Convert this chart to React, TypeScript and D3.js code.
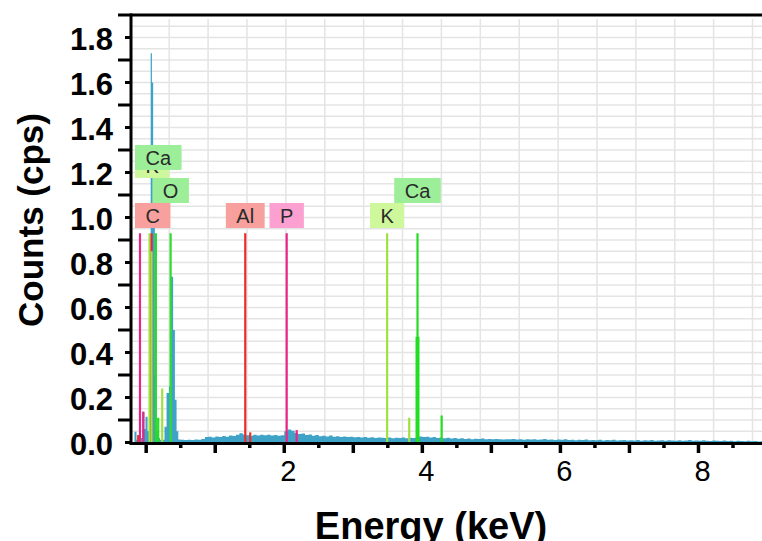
import React, { useEffect, useRef } from 'react';
import * as d3 from 'd3';

const width = 762;
const height = 541;

// low energy part of the spectrum, read bin by bin (keV at bin start, cps)
const lowKeV = [-0.22, -0.17, -0.14, -0.11, -0.06, -0.03, -0.01, 0.02, 0.045, 0.065, 0.083, 0.101, 0.126, 0.145, 0.17, 0.2, 0.265, 0.295, 0.33, 0.355, 0.39, 0.416, 0.44, 0.465];
const lowCps = [0.0, 0.048, 0.012, 0.02, 0.137, 0.06, 0.115, 0.05, 0.3, 1.73, 1.6, 1.0, 0.3, 0.05, 0.02, 0.012, 0.07, 0.22, 0.25, 0.737, 0.5, 0.19, 0.05, 0.013];

// background, one value every 0.05 keV starting at 0.50 keV
const bgStart = 0.5;
const bgStep = 0.05;
const bgCps = [
  0.012, 0.011, 0.012, 0.011, 0.013, 0.012, 0.016, 0.024, 0.026, 0.022,
  0.027, 0.025, 0.029, 0.026, 0.031, 0.029, 0.034, 0.041, 0.036, 0.032,
  0.03, 0.034, 0.031, 0.035, 0.032, 0.034, 0.031, 0.033, 0.03, 0.032,
  0.05, 0.058, 0.052, 0.042, 0.038, 0.04, 0.033, 0.036, 0.03, 0.033,
  0.028, 0.03, 0.027, 0.031, 0.026, 0.028, 0.025, 0.027, 0.024, 0.026,
  0.023, 0.025, 0.022, 0.024, 0.021, 0.023, 0.02, 0.022, 0.021, 0.02,
  0.022, 0.019, 0.021, 0.02, 0.022, 0.019, 0.021, 0.02, 0.022, 0.027,
  0.024, 0.026, 0.022, 0.024, 0.02, 0.022, 0.019, 0.021, 0.018, 0.02,
  0.017, 0.019, 0.016, 0.018, 0.015, 0.017, 0.016, 0.018, 0.015, 0.016,
  0.014, 0.016, 0.015, 0.013, 0.015, 0.014, 0.016, 0.013, 0.014, 0.012,
  0.014, 0.013, 0.015, 0.012, 0.013, 0.016, 0.012, 0.013, 0.011, 0.013,
  0.012, 0.014, 0.011, 0.012, 0.01, 0.012, 0.011, 0.013, 0.01, 0.011,
  0.01, 0.012, 0.009, 0.011, 0.01, 0.012, 0.009, 0.01, 0.011, 0.009,
  0.01, 0.009, 0.011, 0.008, 0.01, 0.009, 0.011, 0.008, 0.009, 0.01,
  0.008, 0.01, 0.009, 0.008, 0.01, 0.008, 0.009, 0.011, 0.008, 0.009,
  0.008, 0.01, 0.008, 0.007, 0.009, 0.008, 0.007, 0.009, 0.007, 0.008,
  0.006, 0.008, 0.007, 0.006, 0.008, 0.006, 0.007, 0.005, 0.006
];

// element marker lines
const lineEl = ['P', 'Al', 'P', 'K', 'C', 'K', 'Ca', 'Ca', 'K', 'O', 'Al', 'Al', 'P', 'P', 'K', 'K', 'Ca', 'Ca'];
const lineKeV = [-0.09, -0.116, -0.04, 0.049, 0.078, 0.078, 0.14, 0.174, 0.232, 0.354, 1.435, 1.507, 2.035, 2.18, 3.49, 3.81, 3.93, 4.28];
const lineCps = [0.93, 0.033, 0.137, 0.93, 0.93, 0.85, 0.93, 0.11, 0.24, 0.93, 0.93, 0.045, 0.93, 0.055, 0.93, 0.11, 0.93, 0.12];

// fitted Ca peak
const caPeakKeV = 3.93;
const caPeakCps = 0.47;

// peak labels
const labelEl = ['C', 'O', 'K', 'Ca', 'Al', 'P', 'K', 'Ca'];
const labelKeV = [0.09, 0.354, 0.07, 0.14, 1.435, 2.035, 3.49, 3.93];
const labelRow = [0, 1, 2, 3, 0, 0, 0, 1];

const yTickValues = [0, 0.2, 0.4, 0.6, 0.8, 1.0, 1.2, 1.4, 1.6, 1.8];
const yMinorValues = [0.1, 0.3, 0.5, 0.7, 0.9, 1.1, 1.3, 1.5, 1.7, 1.9];
const xLabelValues = [2, 4, 6, 8];

const lineColor = { C: '#e8283a', O: '#2fdc2f', Al: '#ee2b2b', P: '#ea2585', K: '#9fe23f', Ca: '#22dd22' };
const boxColor = { C: '#f7a09d', O: '#9cef98', Al: '#f7a09d', P: '#fba0d0', K: '#cff79c', Ca: '#9cef98' };
const rowTop = [203, 178, 153, 145];

export default function App() {
  const ref = useRef(null);

  useEffect(() => {
    document.body.style.margin = '0';
    const svg = d3.select(ref.current);
    svg.selectAll('*').remove();

    const left = 131;
    const x = d3.scaleLinear().domain([-0.22, 8.92]).range([left, width]);
    const y = d3.scaleLinear().domain([0, 1.9]).range([442.5, 15]);

    // grid
    const grid = svg.append('g');
    grid.selectAll('line.h')
      .data(d3.range(1, 38).map(i => i * 0.05))
      .enter().append('line')
      .attr('x1', left).attr('x2', width)
      .attr('y1', d => y(d)).attr('y2', d => y(d))
      .attr('stroke', '#e4e4e4').attr('stroke-width', 1.5);
    grid.selectAll('line.v')
      .data(d3.range(1, 17).map(i => -0.23 + i * 0.5633))
      .enter().append('line')
      .attr('x1', d => x(d)).attr('x2', d => x(d))
      .attr('y1', 19).attr('y2', y(0))
      .attr('stroke', '#e4e4e4').attr('stroke-width', 1.5);

    // spectrum
    const pts = lowKeV.map((k, i) => [k, lowCps[i]]);
    bgCps.forEach((v, i) => pts.push([bgStart + i * bgStep, v]));
    pts.push([x.domain()[1], bgCps[bgCps.length - 1]]);
    const area = d3.area()
      .x(d => x(d[0]))
      .y0(y(0))
      .y1(d => y(d[1]))
      .curve(d3.curveStepAfter);
    svg.append('path').attr('d', area(pts)).attr('fill', '#3fa3c8');

    // marker lines
    svg.append('g').selectAll('line')
      .data(lineKeV.map((k, i) => ({ k, v: lineCps[i], el: lineEl[i] })))
      .enter().append('line')
      .attr('x1', d => x(d.k)).attr('x2', d => x(d.k))
      .attr('y1', y(0)).attr('y2', d => y(d.v))
      .attr('stroke', d => lineColor[d.el]).attr('stroke-width', 2.2);

    svg.append('rect')
      .attr('x', x(caPeakKeV) - 2).attr('width', 4)
      .attr('y', y(caPeakCps)).attr('height', y(0) - y(caPeakCps))
      .attr('fill', lineColor.Ca);

    // labels
    labelEl.forEach((el, i) => {
      const g = svg.append('g');
      const rect = g.append('rect').attr('fill', boxColor[el]);
      const t = g.append('text')
        .text(el)
        .attr('font-family', 'Liberation Sans, Arial, sans-serif')
        .attr('font-size', 20)
        .attr('fill', '#2a2a2a')
        .attr('text-anchor', 'middle');
      const w = t.node().getComputedTextLength() + 21;
      let bx = x(labelKeV[i]) - w / 2;
      if (bx < 135) bx = 135;
      rect.attr('x', bx).attr('y', rowTop[labelRow[i]]).attr('width', w).attr('height', 25);
      t.attr('x', bx + w / 2).attr('y', rowTop[labelRow[i]] + 20);
    });

    // axes
    const axes = svg.append('g').attr('stroke', '#000');
    axes.append('line').attr('x1', left).attr('x2', width).attr('y1', 443.5).attr('y2', 443.5).attr('stroke-width', 3);
    axes.append('line').attr('x1', left).attr('x2', left).attr('y1', 13.5).attr('y2', 445).attr('stroke-width', 3);
    axes.append('line').attr('x1', left).attr('x2', width).attr('y1', 15).attr('y2', 15).attr('stroke-width', 3);

    axes.selectAll('line.ymaj').data(yTickValues).enter().append('line')
      .attr('x1', 125).attr('x2', left).attr('y1', d => y(d)).attr('y2', d => y(d)).attr('stroke-width', 3);
    axes.selectAll('line.ymin').data(yMinorValues).enter().append('line')
      .attr('x1', 118).attr('x2', left).attr('y1', d => y(d)).attr('y2', d => y(d)).attr('stroke-width', 3);

    axes.selectAll('line.xmaj').data(d3.range(0, 9)).enter().append('line')
      .attr('x1', d => x(d)).attr('x2', d => x(d)).attr('y1', 443).attr('y2', 453).attr('stroke-width', 3.5);
    axes.selectAll('line.xmin').data(d3.range(0, 9).map(d => d + 0.5)).enter().append('line')
      .attr('x1', d => x(d)).attr('x2', d => x(d)).attr('y1', 443).attr('y2', 448).attr('stroke-width', 3.5);

    const font = 'Liberation Sans, Arial, sans-serif';
    svg.append('g').selectAll('text').data(yTickValues).enter().append('text')
      .text(d => d.toFixed(1))
      .attr('x', 113).attr('y', d => y(d) + 12.5)
      .attr('text-anchor', 'end')
      .attr('font-family', font).attr('font-weight', 'bold').attr('font-size', 31);

    svg.append('g').selectAll('text').data(xLabelValues).enter().append('text')
      .text(d => d)
      .attr('x', d => x(d) + 4).attr('y', 481)
      .attr('text-anchor', 'middle')
      .attr('font-family', font).attr('font-size', 29);

    svg.append('text')
      .text('Energy (keV)')
      .attr('x', 431).attr('y', 539)
      .attr('text-anchor', 'middle')
      .attr('font-family', font).attr('font-weight', 'bold').attr('font-size', 38);

    svg.append('text')
      .text('Counts (cps)')
      .attr('transform', 'translate(43,220) rotate(-90)')
      .attr('text-anchor', 'middle')
      .attr('font-family', font).attr('font-weight', 'bold').attr('font-size', 35);
  }, []);

  return <svg ref={ref} width={width} height={height} style={{ display: 'block', background: '#fff' }} />;
}
